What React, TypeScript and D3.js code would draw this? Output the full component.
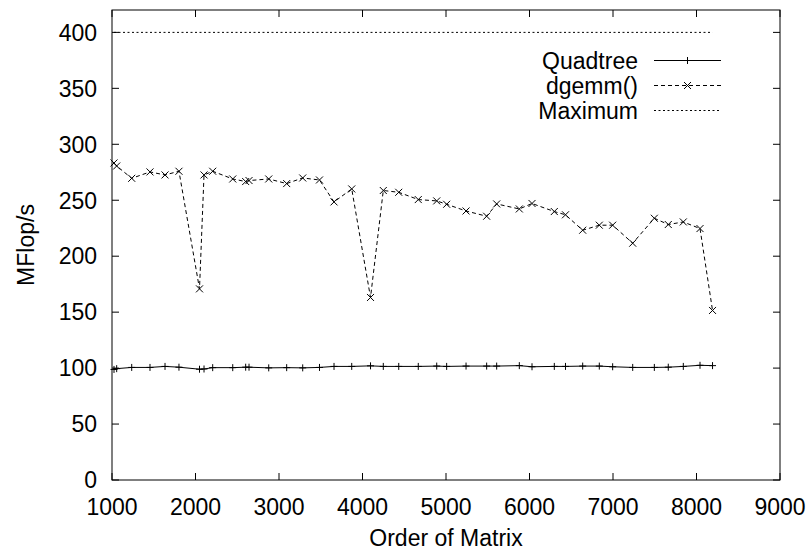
import React from "react";
import * as d3 from "d3";

const orders = [1024, 1056, 1236, 1455, 1635, 1802, 2048, 2102, 2206, 2446, 2601, 2641, 2877, 3092, 3284, 3485, 3659, 3871, 4096, 4249, 4434, 4668, 4889, 5008, 5240, 5487, 5607, 5878, 6030, 6297, 6431, 6637, 6836, 6996, 7236, 7495, 7662, 7842, 8042, 8192];
const quadtree = [98.8, 99.5, 100.6, 100.6, 101.5, 100.8, 99.0, 99.2, 100.4, 100.4, 100.8, 100.8, 100.2, 100.4, 100.2, 100.6, 101.5, 101.5, 102.0, 101.5, 101.5, 101.5, 101.8, 101.5, 101.8, 101.8, 101.8, 102.2, 101.2, 101.5, 101.5, 101.8, 101.8, 101.2, 100.6, 100.6, 100.8, 101.5, 102.5, 102.2];
const dgemm = [283.3, 280.6, 269.6, 275.3, 272.6, 275.9, 170.8, 272.6, 275.9, 269.0, 266.7, 267.6, 269.0, 264.9, 269.9, 268.1, 248.5, 260.1, 163.1, 258.7, 257.1, 250.6, 249.4, 246.4, 240.4, 235.7, 246.7, 242.2, 247.1, 239.9, 237.0, 223.2, 227.7, 227.7, 211.6, 233.9, 228.3, 230.6, 224.7, 151.5];
const maxOrders = [1024, 8192];
const maxValues = [400, 400];
const xTicks = [1000, 2000, 3000, 4000, 5000, 6000, 7000, 8000, 9000];
const yTicks = [0, 50, 100, 150, 200, 250, 300, 350, 400];
const legendLabels = ["Quadtree", "dgemm()", "Maximum"];

const W = 812, H = 557;
const L = 112, R = 780, T = 10, B = 480;
const FONT = "'Liberation Sans', Arial, Helvetica, sans-serif";
const FS = 23;

export default function App() {
  const x = d3.scaleLinear().domain([1000, 9000]).range([L, R]);
  const y = d3.scaleLinear().domain([0, 420]).range([B, T]);
  const line = d3.line<[number, number]>().x(d => x(d[0])).y(d => y(d[1]));
  const qPts: [number, number][] = orders.map((o, i) => [o, quadtree[i]]);
  const dPts: [number, number][] = orders.map((o, i) => [o, dgemm[i]]);
  const mPts: [number, number][] = maxOrders.map((o, i) => [o, maxValues[i]]);
  const tick = 7;
  const plus = (cx: number, cy: number, k: string) => (
    <path key={k} d={`M${cx - 3.5},${cy}H${cx + 3.5}M${cx},${cy - 3.5}V${cy + 3.5}`} stroke="#000" strokeWidth={1} />
  );
  const cross = (cx: number, cy: number, k: string) => (
    <path key={k} d={`M${cx - 3.5},${cy - 3.5}L${cx + 3.5},${cy + 3.5}M${cx - 3.5},${cy + 3.5}L${cx + 3.5},${cy - 3.5}`} stroke="#000" strokeWidth={1} />
  );
  const legY = [60.5, 85.5, 110.5];
  const legX0 = 654, legX1 = 721, legText = 638;
  return (
    <svg width={W} height={H} style={{ position: "absolute", left: 0, top: 0, background: "#fff" }} fontFamily={FONT}>
      <rect x={0} y={0} width={W} height={H} fill="#fff" />
      {/* ticks */}
      {xTicks.map(t => (
        <g key={"xt" + t}>
          <line x1={x(t)} x2={x(t)} y1={B} y2={B - tick} stroke="#000" />
          <line x1={x(t)} x2={x(t)} y1={T} y2={T + tick} stroke="#000" />
          <text x={x(t)} y={515} fontSize={FS} textAnchor="middle">{t}</text>
        </g>
      ))}
      {yTicks.map(t => (
        <g key={"yt" + t}>
          <line x1={L} x2={L + tick} y1={y(t)} y2={y(t)} stroke="#000" />
          <line x1={R} x2={R - tick} y1={y(t)} y2={y(t)} stroke="#000" />
          <text x={97} y={y(t)} dy="0.36em" fontSize={FS} textAnchor="end">{t}</text>
        </g>
      ))}
      {/* series */}
      <path d={line(mPts) || ""} fill="none" stroke="#000" strokeWidth={1} strokeDasharray="2,2.5" />
      <path d={line(dPts) || ""} fill="none" stroke="#000" strokeWidth={1} strokeDasharray="4,3" />
      {dPts.map((p, i) => cross(x(p[0]), y(p[1]), "d" + i))}
      <path d={line(qPts) || ""} fill="none" stroke="#000" strokeWidth={1} />
      {qPts.map((p, i) => plus(x(p[0]), y(p[1]), "q" + i))}
      {/* legend */}
      {legendLabels.map((lab, i) => (
        <text key={lab} x={legText} y={legY[i]} dy="0.36em" fontSize={FS} textAnchor="end">{lab}</text>
      ))}
      <line x1={legX0} x2={legX1} y1={legY[0]} y2={legY[0]} stroke="#000" />
      {plus((legX0 + legX1) / 2, legY[0], "lq")}
      <line x1={legX0} x2={legX1} y1={legY[1]} y2={legY[1]} stroke="#000" strokeDasharray="4,3" />
      {cross((legX0 + legX1) / 2, legY[1], "ld")}
      <line x1={legX0} x2={legX1} y1={legY[2]} y2={legY[2]} stroke="#000" strokeDasharray="2,2.5" />
      {/* frame */}
      <rect x={L} y={T} width={R - L} height={B - T} fill="none" stroke="#000" strokeWidth={1} />
      {/* axis titles */}
      <text x={(L + R) / 2} y={546} fontSize={FS} textAnchor="middle">Order of Matrix</text>
      <text transform={`translate(34,${(T + B) / 2}) rotate(-90)`} fontSize={FS} textAnchor="middle">MFlop/s</text>
    </svg>
  );
}
